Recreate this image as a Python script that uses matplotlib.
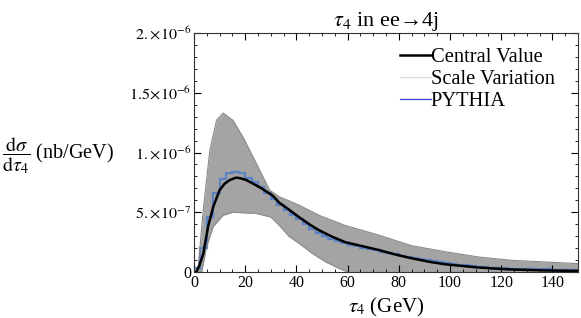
import numpy as np
import matplotlib.pyplot as plt
from matplotlib.lines import Line2D
from matplotlib.ticker import MultipleLocator, FixedLocator

plt.rcParams['font.family'] = ['Liberation Serif', 'DejaVu Serif']
plt.rcParams['mathtext.fontset'] = 'stix'

# central value (values in 1e-7 nb/GeV)
tau_c = [0, 1, 2, 3.6, 5.5, 7.5, 10, 12, 14, 16.5, 18, 20.4, 25.6, 30.7, 33.3,
         37.2, 41, 45, 48.8, 54, 59, 65, 72, 78, 85, 92, 98, 105, 111, 118,
         124, 137, 150]
central = [0, 0.05, 0.5, 1.5, 3.8, 5.45, 6.85, 7.4, 7.7, 7.9, 7.85, 7.7, 7.1,
           6.4, 5.8, 5.2, 4.6, 4.0, 3.5, 2.95, 2.5, 2.2, 1.85, 1.5, 1.15, 0.85,
           0.65, 0.5, 0.38, 0.28, 0.21, 0.13, 0.09]

# scale variation band
tau_up = [0, 1.5, 3.6, 6.2, 8.8, 11.4, 15.2, 19.1, 24.3, 29.5, 33.3, 41, 48.8,
          59, 72, 85, 98, 111, 124, 137, 150]
band_up = [0, 0, 5.2, 10.2, 12.7, 13.3, 12.7, 11.3, 9.1, 6.85, 6.3, 5.6, 4.75,
           3.9, 3.1, 2.2, 1.7, 1.26, 0.98, 0.84, 0.7]
tau_lo = [0, 3, 4.9, 7.5, 11.4, 15.2, 24.3, 30, 33.3, 37, 41, 46.2, 51.4, 56.6,
          60, 150]
band_lo = [0, 0, 2.1, 3.8, 4.75, 5.0, 4.9, 4.6, 3.9, 3.0, 2.4, 1.55, 0.85, 0.3,
           0.0, 0.0]

# PYTHIA histogram, 2.5 GeV bins
bin_edges = np.arange(0, 152.5, 2.5)
pythia = [0.3, 2.0, 4.6, 6.6, 7.8, 8.3, 8.4, 8.3, 7.9, 7.5, 7.1, 6.6, 6.1, 5.6,
          5.2, 4.8, 4.4, 4.0, 3.6, 3.3, 3.0, 2.8, 2.6, 2.45, 2.3, 2.15, 2.0,
          1.9, 1.8, 1.7, 1.58, 1.47, 1.36, 1.25, 1.15, 1.05, 0.97, 0.9, 0.83,
          0.76, 0.68, 0.61, 0.55, 0.5, 0.45, 0.41, 0.37, 0.34, 0.31, 0.29,
          0.27, 0.25, 0.24, 0.23, 0.22, 0.21, 0.2, 0.2, 0.19, 0.18]

s = 1e-7
fig = plt.figure(figsize=(5.81, 3.18), dpi=100)
ax = fig.add_axes([194/581, 46/318, 384/581, 239/318])

ax.fill_between(tau_up, np.array(band_up)*s, 0, color='#a4a4a4', lw=0)
ax.fill_between(tau_lo, np.array(band_lo)*s, 0, color='white', lw=0)
ax.plot(tau_up, np.array(band_up)*s, color='#8a8a8a', lw=0.8)
ax.plot(tau_lo[:-1], np.array(band_lo[:-1])*s, color='#8a8a8a', lw=0.8)

ax.stairs(np.array(pythia)*s, bin_edges, color='#5b82c4', lw=1.6)
ax.plot(tau_c, np.array(central)*s, color='black', lw=1.8)

ax.set_xlim(0, 150)
ax.set_ylim(0, 2e-6)
ax.xaxis.set_major_locator(MultipleLocator(20))
ax.xaxis.set_minor_locator(MultipleLocator(5))
ax.yaxis.set_major_locator(FixedLocator([0, 5e-7, 1e-6, 1.5e-6, 2e-6]))
ax.yaxis.set_minor_locator(MultipleLocator(1e-7))
ax.set_yticklabels(['0', r'$5.\!\times\!10^{-7}$', r'$1.\!\times\!10^{-6}$',
                    r'$1.5\!\times\!10^{-6}$', r'$2.\!\times\!10^{-6}$'])
ax.tick_params(which='both', direction='in', top=True, right=True,
               labelsize=11.5, pad=2)
ax.tick_params(which='major', length=5)
ax.tick_params(which='minor', length=2.5)
for sp in ax.spines.values():
    sp.set_linewidth(0.8)
    sp.set_color('#333333')

ax.set_xlabel(r'$\tau_4$ (GeV)', fontsize=15, labelpad=4)
fig.text(0.003, 0.51, r'$\dfrac{\mathrm{d}\sigma}{\mathrm{d}\tau_4}$ (nb/GeV)',
         fontsize=14.5, ha='left', va='center')
ax.set_title(r'$\tau_4$ in ee→4j', fontsize=16, pad=5)

handles = [Line2D([], [], color='black', lw=1.8),
           Line2D([], [], color='#dddddd', lw=1),
           Line2D([], [], color='#3c3ce0', lw=0.9)]
ax.legend(handles, ['Central Value', 'Scale Variation', 'PYTHIA'],
          loc='upper left', bbox_to_anchor=(0.536, 0.937), frameon=False,
          fontsize=14.8, handlelength=1.5, handletextpad=0, labelspacing=0.12,
          borderaxespad=0, borderpad=0)

fig.savefig('out.png', dpi=100)
